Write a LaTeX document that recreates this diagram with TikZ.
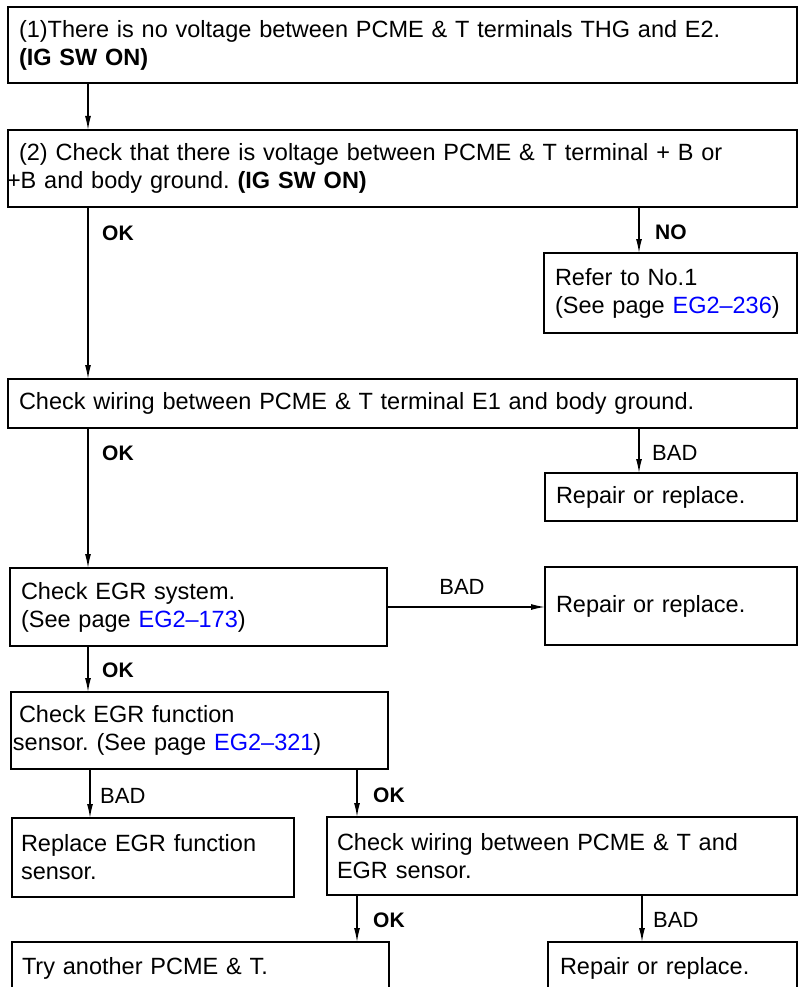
\documentclass[tikz,border=0pt]{standalone}
\usepackage{fontspec}
\setmainfont{Liberation Sans}
\usetikzlibrary{arrows.meta}
\definecolor{linkblue}{RGB}{0,0,255}
\newcommand\lnk[1]{\textcolor{linkblue}{#1}}
\frenchspacing
\begin{document}
\begin{tikzpicture}[x=1pt,y=-1pt,
  box/.style={draw, line width=2pt, outer sep=0pt, inner xsep=11pt, inner ysep=0pt,
    anchor=north west, align=left, font=\fontsize{23.5}{28}\selectfont},
  arr/.style={line width=1.3pt, -{Latex[length=14pt,width=6pt]}},
  lbad/.style={anchor=west, inner sep=0pt, font=\fontsize{22}{26}\selectfont},
  lok/.style={anchor=west, inner sep=0pt, font=\bfseries\fontsize{21}{24}\selectfont}]
\useasboundingbox (0,0) rectangle (801,987);
\clip (0,0) rectangle (801,987);

% boxes
\node[box, minimum width=789pt, minimum height=76pt, text width=767pt] (b1) at (8,7)
  {(1)There is no voltage between PCME \& T terminals THG and E2.\\ \textbf{(IG SW ON)}};
\node[box, minimum width=789pt, minimum height=77pt, text width=767pt] (b2) at (8,130)
  {(2) Check that there is voltage between PCME \& T terminal + B or\\ \hspace*{-12pt}+B and body ground. \textbf{(IG SW ON)}};
\node[box, minimum width=253pt, minimum height=80pt, text width=231pt] (refer) at (544,253)
  {Refer to No.1\\ (See page \lnk{EG2–236})};
\node[box, minimum width=789pt, minimum height=49pt, text width=767pt] (b3) at (8,379)
  {Check wiring between PCME \& T terminal E1 and body ground.};
\node[box, minimum width=252pt, minimum height=48pt, text width=230pt] (rep1) at (545,473)
  {Repair or replace.};
\node[box, minimum width=377pt, minimum height=78pt, text width=355pt] (egr) at (10,568)
  {Check EGR system.\\ (See page \lnk{EG2–173})};
\node[box, minimum width=252pt, minimum height=78pt, text width=230pt] (rep2) at (545,567)
  {Repair or replace.};
\node[box, inner xsep=8pt, minimum width=377pt, minimum height=77pt, text width=361pt] (egrf) at (11,692)
  {Check EGR function\\ \hspace*{-6pt}sensor. (See page \lnk{EG2–321})};
\node[box, inner xsep=9pt, minimum width=282pt, minimum height=79pt, text width=264pt] (repl) at (12,818)
  {Replace EGR function\\ sensor.};
\node[box, inner xsep=10pt, minimum width=470pt, minimum height=78pt, text width=450pt] (cw2) at (327,817)
  {Check wiring between PCME \& T and\\ EGR sensor.};
\node[box, inner xsep=10pt, minimum width=377pt, minimum height=52pt, text width=357pt] (try) at (12,942)
  {Try another PCME \& T.};
\node[box, inner xsep=12pt, minimum width=249pt, minimum height=52pt, text width=225pt] (rep3) at (548,942)
  {Repair or replace.};

% connector columns
\coordinate (cA) at (88,0);
\coordinate (cB) at (639,0);
\coordinate (cC) at (90,0);
\coordinate (cD) at (357,0);
\coordinate (cE) at (642,0);

\draw[arr] (b1.south -| cA) -- (b2.north -| cA);
\draw[arr] (b2.south -| cA) -- (b3.north -| cA);
\draw[arr] (b2.south -| cB) -- (refer.north -| cB);
\draw[arr] (b3.south -| cA) -- (egr.north -| cA);
\draw[arr] (b3.south -| cB) -- (rep1.north -| cB);
\draw[arr] (egr.east) -- (rep2.west |- egr.east);
\draw[arr] (egr.south -| cA) -- (egrf.north -| cA);
\draw[arr] (egrf.south -| cC) -- (repl.north -| cC);
\draw[arr] (egrf.south -| cD) -- (cw2.north -| cD);
\draw[arr] (cw2.south -| cD) -- (try.north -| cD);
\draw[arr] (cw2.south -| cE) -- (rep3.north -| cE);

% labels
\node[lok] (ok1) at (102,233) {OK};
\node[lok] (no1) at (655,232) {NO};
\node[lok] (ok2) at (102,453) {OK};
\node[lbad] (bad1) at (652,453) {BAD};
\node[lbad, anchor=center] (bad2) at (462,587) {BAD};
\node[lok] (ok3) at (102,670) {OK};
\node[lbad] (bad3) at (100,796) {BAD};
\node[lok] (ok4) at (373,795) {OK};
\node[lok] (ok5) at (373,920) {OK};
\node[lbad] (bad4) at (653,920) {BAD};
\end{tikzpicture}
\end{document}
